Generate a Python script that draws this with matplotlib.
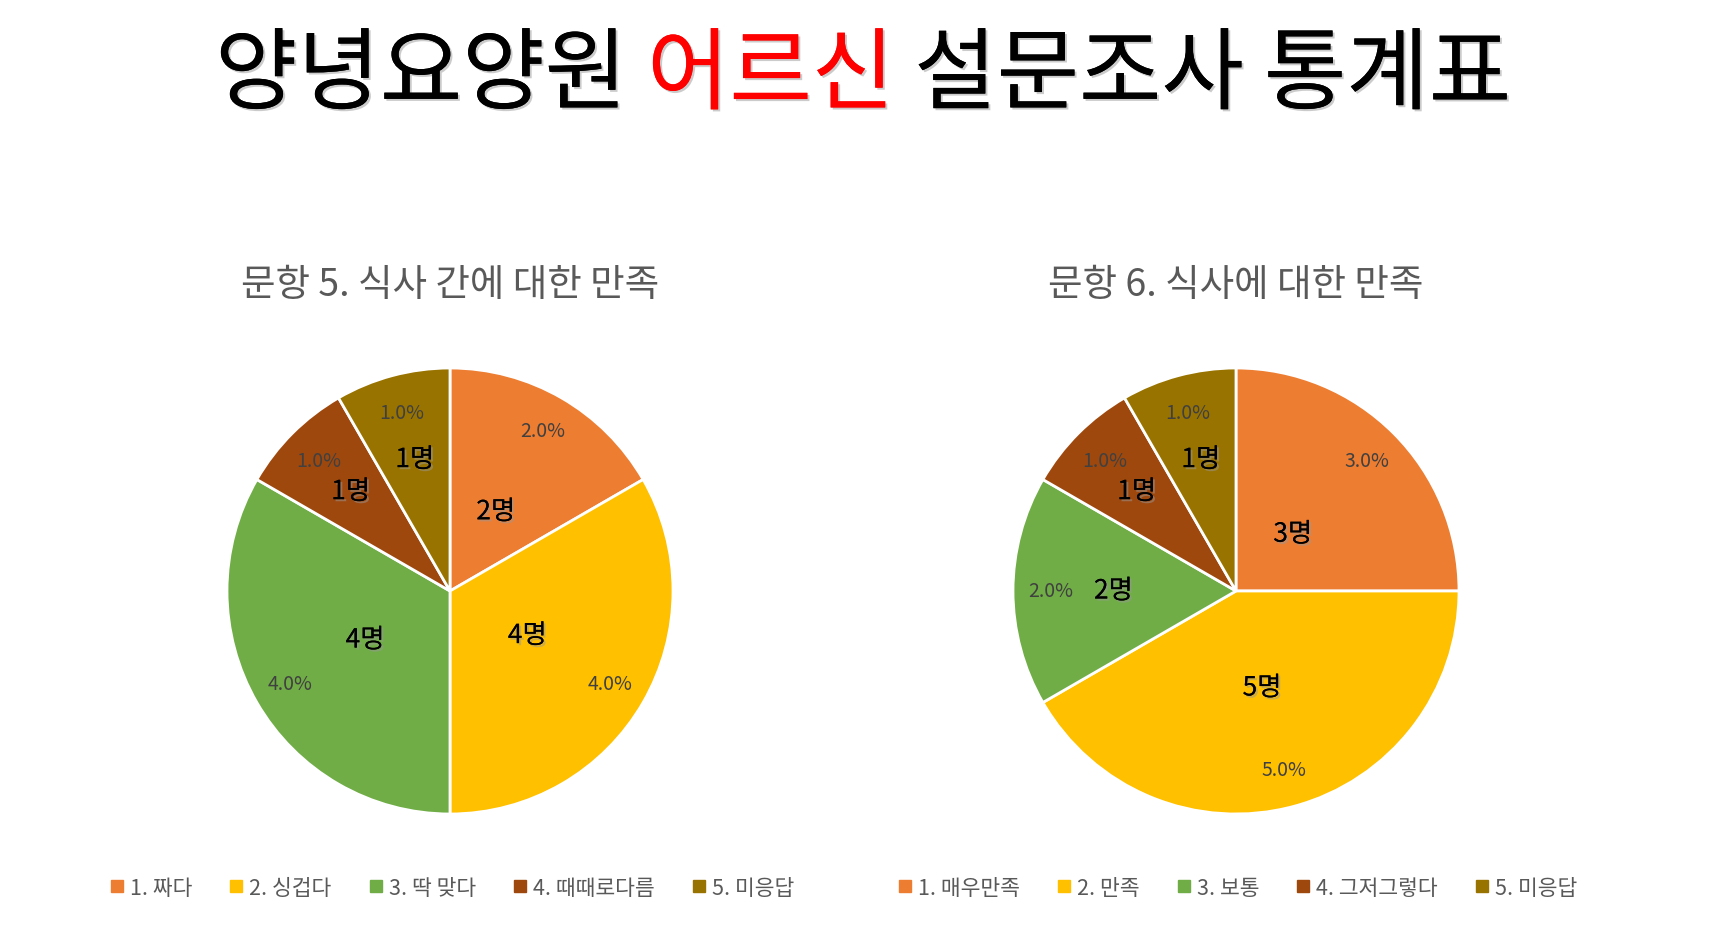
import matplotlib
matplotlib.use("Agg")
import numpy as np
import matplotlib.pyplot as plt
import matplotlib.patheffects as pe
from matplotlib.lines import Line2D

plt.rcParams['font.family'] = ['Noto Sans CJK KR', 'DejaVu Sans']

# data
colors = ['#ED7D31', '#FFC000', '#70AD47', '#9E480E', '#997300']

q5_title = '문항 5. 식사 간에 대한 만족'
q5_labels = ['1. 짜다', '2. 싱겁다', '3. 딱 맞다', '4. 때때로다름', '5. 미응답']
q5_counts = [2, 4, 4, 1, 1]

q6_title = '문항 6. 식사에 대한 만족'
q6_labels = ['1. 매우만족', '2. 만족', '3. 보통', '4. 그저그렇다', '5. 미응답']
q6_counts = [3, 5, 2, 1, 1]

# how far out (fraction of radius) the "N명" labels sit, like Excel's best fit
q5_label_dist = [0.41, 0.40, 0.44, 0.63, 0.61]
q6_label_dist = [0.36, 0.45, 0.55, 0.63, 0.61]

W, H = 1726, 945
fig = plt.figure(figsize=(W / 100, H / 100), dpi=100)
fig.patch.set_facecolor('white')

shadow = [pe.withSimplePatchShadow(offset=(1.5, -1.5), shadow_rgbFace='#999999', alpha=0.5), pe.Normal()]

# title in three coloured pieces
parts = [('양녕요양원 ', 'black'), ('어르신', '#FF0000'), (' 설문조사 통계표', 'black')]
renderer = fig.canvas.get_renderer()
texts = []
for s, c in parts:
    t = fig.text(0, 1 - 78 / H, s, fontsize=64.5, color=c, va='center', ha='left',
                 path_effects=shadow)
    texts.append(t)
widths = [t.get_window_extent(renderer).width for t in texts]
x = (W - sum(widths)) / 2
for t, w in zip(texts, widths):
    t.set_x(x / W)
    x += w


def draw_pie(cx, cy, r, counts, title, labels, label_dist):
    ax = fig.add_axes([(cx - r) / W, (H - cy - r) / H, 2 * r / W, 2 * r / H])
    total = sum(counts)
    wedges, _, autotexts = ax.pie(
        counts, colors=colors, startangle=90, counterclock=False,
        autopct=lambda p: f'{p * total / 100:.1f}%', pctdistance=0.83,
        wedgeprops=dict(edgecolor='white', linewidth=2))
    for t in autotexts:
        t.set_fontsize(14)
        t.set_color('#404040')
    for w, c, d in zip(wedges, counts, label_dist):
        ang = np.deg2rad((w.theta1 + w.theta2) / 2)
        ax.text(d * np.cos(ang), d * np.sin(ang), f'{c}명', fontsize=19,
                color='black', ha='center', va='center', path_effects=shadow)
    ax.set_xlim(-1, 1)
    ax.set_ylim(-1, 1)
    fig.text(cx / W, 1 - 286 / H, title, fontsize=27, color='#595959', ha='center', va='center')
    handles = [Line2D([], [], marker='s', linestyle='none', markersize=8,
                      markerfacecolor=c, markeredgecolor=c) for c in colors]
    fig.legend(handles, labels, loc='center', bbox_to_anchor=(cx / W, 1 - 889 / H),
               ncol=5, frameon=False, fontsize=15.5, labelcolor='#595959',
               handletextpad=0.1, columnspacing=1.55, handlelength=1.0)


draw_pie(450, 592, 223, q5_counts, q5_title, q5_labels, q5_label_dist)
draw_pie(1236, 592, 223, q6_counts, q6_title, q6_labels, q6_label_dist)

fig.savefig('out.png', dpi=100, facecolor='white')
